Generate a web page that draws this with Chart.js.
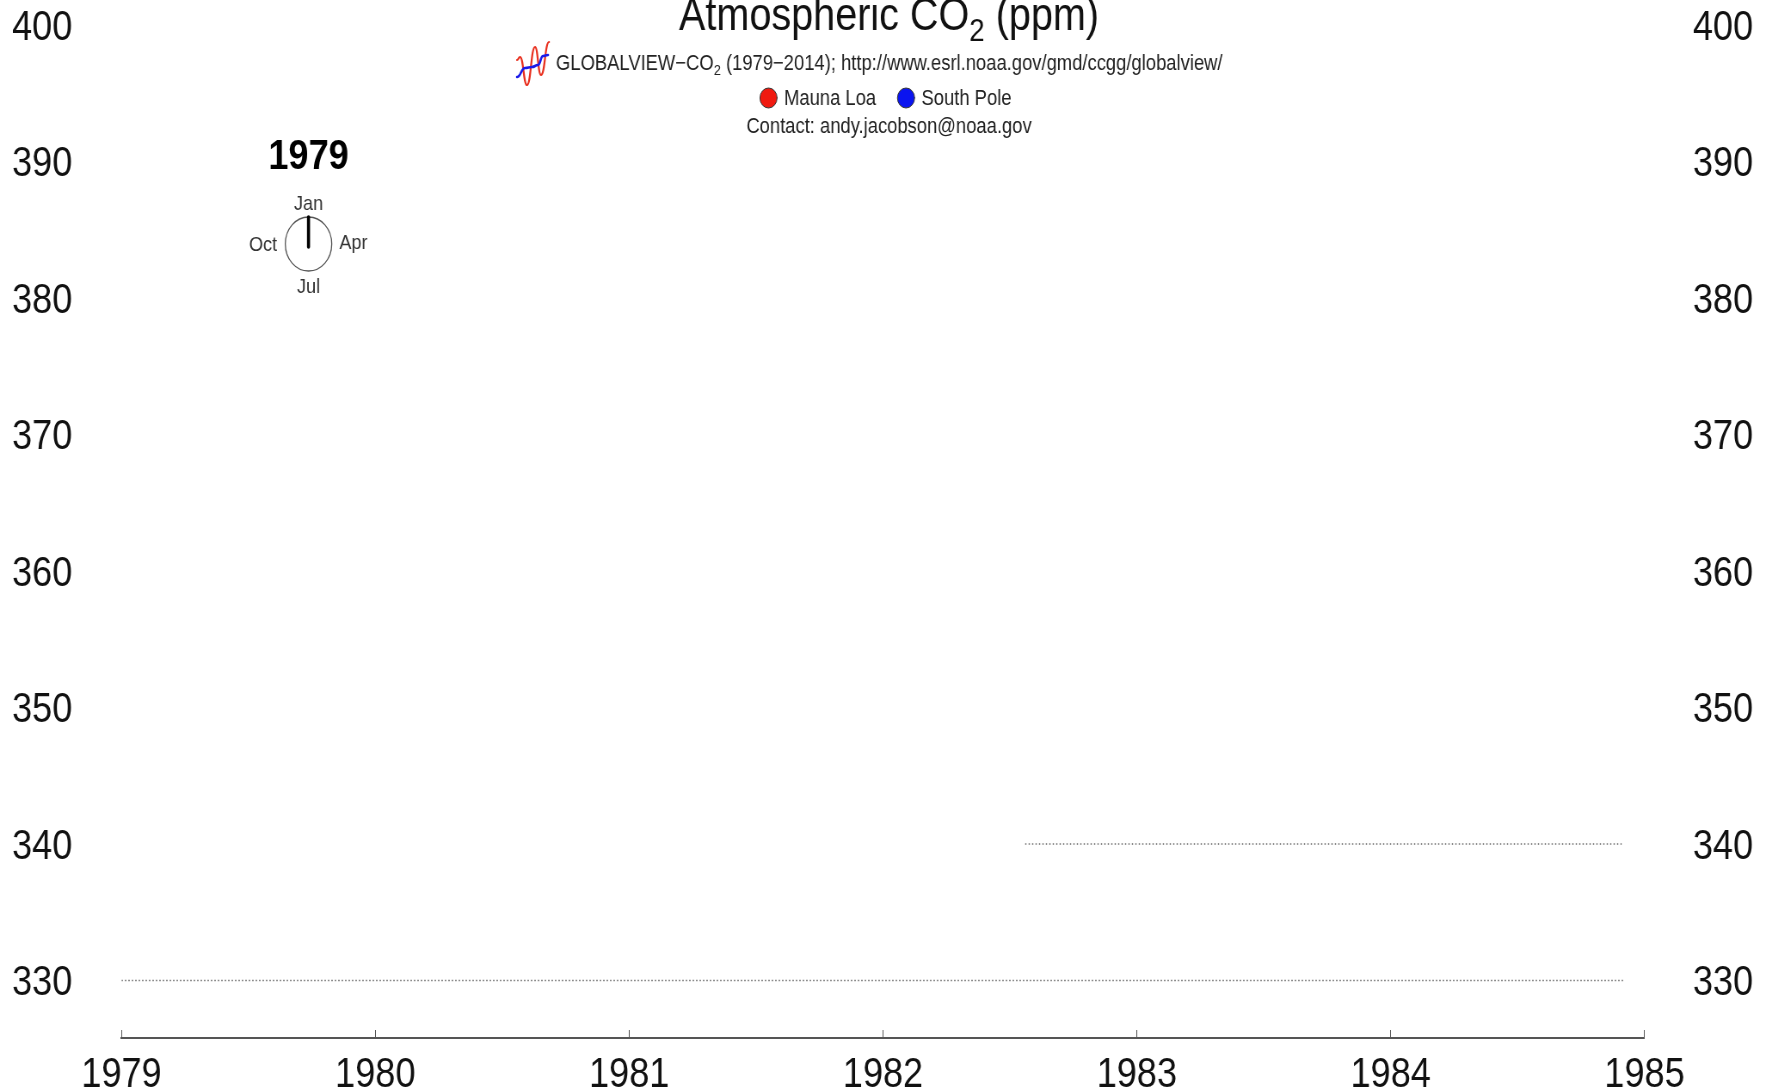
<!DOCTYPE html>
<html>
<head>
<meta charset="utf-8">
<script src="https://cdn.jsdelivr.net/npm/chart.js@4"></script>
<style>
  html, body { margin: 0; padding: 0; background: #fff; overflow: hidden; width: 1772px; height: 1092px; }
  /* the original frame is squeezed sideways, so draw wide and squeeze it the same way */
  #wrap { width: 2060px; height: 1092px; transform: scaleX(0.8602); transform-origin: 0 0; filter: blur(0.6px); }
</style>
</head>
<body>
<div id="wrap"><canvas id="chartCo2" width="2060" height="1092"></canvas></div>
<script>
const yearTicks = [1979, 1980, 1981, 1982, 1983, 1984, 1985];
const ppmTicks = [330, 340, 350, 360, 370, 380, 390, 400];

// dotted guide lines, the only marks on this first frame
const guide330Years = [1979, 1984.92];
const guide330Values = [330, 330];
const guide340Years = [1982.56, 1984.91];
const guide340Values = [340, 340];

const seriesNames = ['Mauna Loa', 'South Pole'];
const seriesColors = ['#f01a10', '#0a14f0'];
const clockYear = '1979';
const clockMonths = ['Jan', 'Apr', 'Jul', 'Oct'];

const squeeze = 1772 / 2060;
const sx = x => x / squeeze;
const FONT = '"Liberation Sans", Arial, sans-serif';
// y labels sit a little below their value in the original
const labelDrop = 0.21;

function toPoints(xs, ys) {
  return xs.map((x, i) => ({ x: x, y: ys[i] }));
}

// text pieces in a row, sub: true drops and shrinks the piece
function drawRuns(ctx, x, y, size, runs) {
  ctx.textAlign = 'left';
  ctx.textBaseline = 'alphabetic';
  runs.forEach(r => {
    const fs = r.sub ? size * 0.7 : size;
    ctx.font = fs + 'px ' + FONT;
    ctx.fillText(r.text, x, r.sub ? y + size * 0.24 : y);
    x += ctx.measureText(r.text).width;
  });
}

function runsWidth(ctx, size, runs) {
  let w = 0;
  runs.forEach(r => {
    ctx.font = (r.sub ? size * 0.7 : size) + 'px ' + FONT;
    w += ctx.measureText(r.text).width;
  });
  return w;
}

// smooth curve through the logo's turning points
function wiggle(ctx, color, width, pts) {
  ctx.strokeStyle = color;
  ctx.lineWidth = width;
  ctx.lineJoin = 'round';
  ctx.lineCap = 'round';
  ctx.beginPath();
  ctx.moveTo(sx(pts[0][0]), pts[0][1]);
  for (let i = 1; i < pts.length; i++) {
    const midX = (pts[i - 1][0] + pts[i][0]) / 2;
    ctx.bezierCurveTo(sx(midX), pts[i - 1][1], sx(midX), pts[i][1], sx(pts[i][0]), pts[i][1]);
  }
  ctx.stroke();
}

const annotations = {
  id: 'annotations',
  afterDraw(chart) {
    const ctx = chart.ctx;
    ctx.save();
    ctx.fillStyle = '#111';

    // title
    const titleRuns = [{ text: 'Atmospheric CO' }, { text: '2', sub: true }, { text: ' (ppm)' }];
    drawRuns(ctx, sx(889) - runsWidth(ctx, 46, titleRuns) / 2, 30, 46, titleRuns);

    // source line
    ctx.fillStyle = '#222';
    drawRuns(ctx, sx(556), 70, 21.4, [
      { text: 'GLOBALVIEW\u2212CO' }, { text: '2', sub: true },
      { text: ' (1979\u22122014); http://www.esrl.noaa.gov/gmd/ccgg/globalview/' }
    ]);

    // logo
    wiggle(ctx, '#e8301f', 2.2, [[517, 60], [520, 57], [527, 85], [535, 47], [541, 75], [549, 42]]);
    wiggle(ctx, '#1a1ae8', 2.6, [[517, 77], [525, 68], [532, 67], [538, 65], [543, 56], [548, 55]]);

    // legend
    ctx.font = '21.4px ' + FONT;
    ctx.textBaseline = 'middle';
    ctx.textAlign = 'left';
    const dotX = [768.5, 906];
    seriesNames.forEach((name, i) => {
      ctx.beginPath();
      ctx.arc(sx(dotX[i]), 98, 10, 0, Math.PI * 2);
      ctx.fillStyle = seriesColors[i];
      ctx.fill();
      ctx.strokeStyle = '#333';
      ctx.lineWidth = 1;
      ctx.stroke();
      ctx.fillStyle = '#222';
      ctx.fillText(name, sx(dotX[i] + 15.5), 99);
    });

    ctx.textAlign = 'center';
    ctx.fillText('Contact: andy.jacobson@noaa.gov', sx(889), 127);

    // year and month clock
    const cx = sx(308.5), cy = 244;
    ctx.fillStyle = '#000';
    ctx.font = 'bold 42px ' + FONT;
    ctx.fillText(clockYear, cx, 157);

    ctx.strokeStyle = '#555';
    ctx.lineWidth = 1.3;
    ctx.beginPath();
    ctx.arc(cx, cy, 27, 0, Math.PI * 2);
    ctx.stroke();
    ctx.strokeStyle = '#000';
    ctx.lineWidth = 3.6;
    ctx.beginPath();
    ctx.moveTo(cx, cy + 3);
    ctx.lineTo(cx, cy - 27);
    ctx.stroke();

    ctx.fillStyle = '#333';
    ctx.font = '21px ' + FONT;
    ctx.fillText(clockMonths[0], cx, 204);
    ctx.fillText(clockMonths[1], sx(353.5), 243);
    ctx.fillText(clockMonths[2], cx, 287);
    ctx.fillText(clockMonths[3], sx(263), 245);
    ctx.restore();
  }
};

const tickFont = { family: FONT, size: 42 };
const ppmLabel = v => String(Math.round(v + labelDrop));
const buildPpmTicks = s => { s.ticks = ppmTicks.map(v => ({ value: v - labelDrop })); };

new Chart(document.getElementById('chartCo2').getContext('2d'), {
  type: 'line',
  data: {
    datasets: [
      {
        data: toPoints(guide330Years, guide330Values),
        borderColor: '#666',
        borderWidth: 1.5,
        borderDash: [1.5, 2.5],
        pointRadius: 0
      },
      {
        data: toPoints(guide340Years, guide340Values),
        borderColor: '#666',
        borderWidth: 1.5,
        borderDash: [1.5, 2.5],
        pointRadius: 0
      }
    ]
  },
  options: {
    responsive: false,
    animation: false,
    layout: { padding: { left: sx(12), right: 22, top: 0, bottom: 0 } },
    plugins: { legend: { display: false }, title: { display: false }, tooltip: { enabled: false } },
    scales: {
      x: {
        type: 'linear',
        position: 'bottom',
        min: 1979,
        max: 1985,
        afterBuildTicks: s => { s.ticks = yearTicks.map(v => ({ value: v })); },
        afterFit: s => { s.height = 54; },
        border: { color: '#555', width: 2 },
        grid: { drawOnChartArea: false, tickLength: -8, color: '#555', tickColor: '#555' },
        ticks: {
          color: '#111',
          font: tickFont,
          padding: 20,
          maxRotation: 0,
          autoSkip: false,
          callback: v => String(v)
        }
      },
      y: {
        position: 'left',
        min: 325.79,
        max: 400,
        afterBuildTicks: buildPpmTicks,
        afterFit: s => { s.width = sx(121.5) - sx(12); },
        border: { display: false },
        grid: { display: false, drawTicks: false },
        ticks: { color: '#111', font: tickFont, padding: 0, crossAlign: 'far', autoSkip: false, callback: ppmLabel }
      },
      yRight: {
        position: 'right',
        min: 325.79,
        max: 400,
        afterBuildTicks: buildPpmTicks,
        afterFit: s => { s.width = 2060 - sx(1644.5) - 22; },
        border: { display: false },
        grid: { display: false, drawTicks: false },
        ticks: { color: '#111', font: tickFont, padding: 0, crossAlign: 'far', autoSkip: false, callback: ppmLabel }
      }
    }
  },
  plugins: [annotations]
});
</script>
</body>
</html>
